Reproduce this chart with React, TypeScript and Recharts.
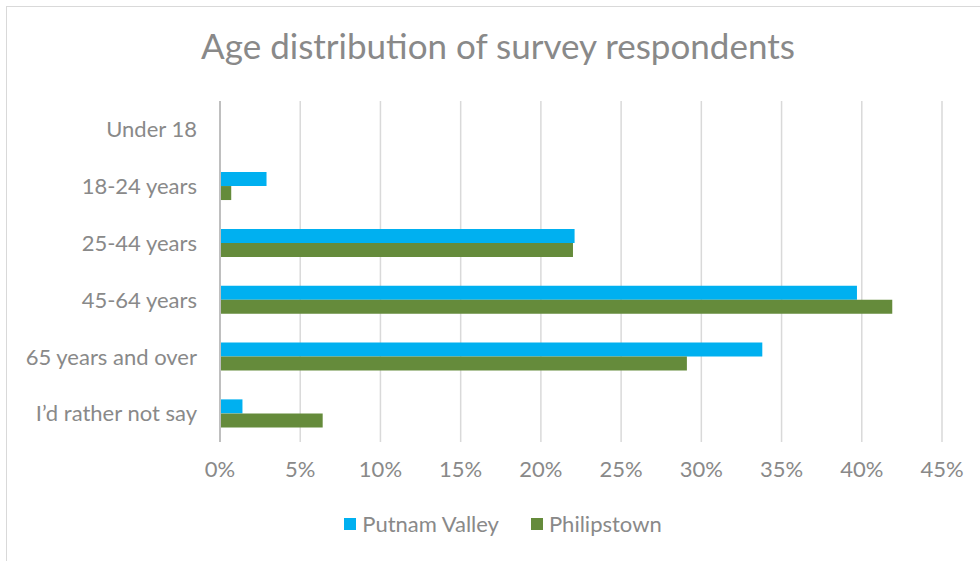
import { BarChart, Bar, XAxis, YAxis, CartesianGrid, Legend } from "recharts";

const categories = [
  "Under 18",
  "18-24 years",
  "25-44 years",
  "45-64 years",
  "65 years and over",
  "I’d rather not say",
];
const putnamValley = [0, 2.9, 22.1, 39.7, 33.8, 1.4];
const philipstown = [0, 0.7, 22.0, 41.9, 29.1, 6.4];
const xTicks = [0, 5, 10, 15, 20, 25, 30, 35, 40, 45];

const chartData = categories.map((c, i) => ({
  category: c,
  pv: putnamValley[i],
  ph: philipstown[i],
}));

const TEXT = "#898989";
const FONT = "Lato, 'Open Sans', sans-serif";

function LegendContent() {
  const items = [
    { name: "Putnam Valley", color: "#00B0F0" },
    { name: "Philipstown", color: "#658B3B" },
  ];
  return (
    <div style={{ display: "flex", justifyContent: "center", paddingLeft: 26, fontFamily: FONT, fontSize: 22, color: TEXT }}>
      {items.map((it) => (
        <div key={it.name} style={{ display: "flex", alignItems: "center", margin: "0 16px" }}>
          <span style={{ width: 12, height: 12, background: it.color, marginRight: 6, display: "inline-block" }} />
          <span>{it.name}</span>
        </div>
      ))}
    </div>
  );
}

export default function App() {
  return (
    <div style={{ position: "absolute", left: 0, top: 0, width: 980, height: 561, overflow: "hidden", background: "#fff" }}>
      <div style={{ position: "absolute", left: 6, top: 6, width: 1000, height: 600, border: "1px solid #d9d9d9" }} />
      <div
        style={{
          position: "absolute",
          top: 24,
          left: 8,
          width: 980,
          textAlign: "center",
          fontFamily: FONT,
          fontSize: 35,
          color: TEXT,
        }}
      >
        Age distribution of survey respondents
      </div>
      <div style={{ position: "absolute", left: 0, top: 0 }}>
        <BarChart
          width={980}
          height={561}
          data={chartData}
          layout="vertical"
          margin={{ top: 101, right: 38, left: 20, bottom: 20 }}
          barCategoryGap="25%"
          barGap={0}
        >
          <CartesianGrid horizontal={false} stroke="#d9d9d9" strokeWidth={1.5} />
          <XAxis
            type="number"
            domain={[0, 45]}
            ticks={xTicks}
            tickFormatter={(v) => `${v}%`}
            axisLine={false}
            tickLine={false}
            tickSize={0}
            tickMargin={19}
            height={72}
            interval={0}
            tick={{ fill: TEXT, fontSize: 22, fontFamily: FONT }}
          />
          <YAxis
            type="category"
            dataKey="category"
            width={200}
            axisLine={{ stroke: "#bfbfbf", strokeWidth: 2 }}
            tickLine={false}
            tickSize={0}
            tickMargin={23}
            interval={0}
            tick={{ fill: TEXT, fontSize: 22, fontFamily: FONT }}
          />
          <Legend
            verticalAlign="bottom"
            content={<LegendContent />}
            wrapperStyle={{ position: "absolute", top: 510, left: 0, width: 980 }}
          />
          <Bar dataKey="pv" name="Putnam Valley" fill="#00B0F0" isAnimationActive={false} />
          <Bar dataKey="ph" name="Philipstown" fill="#658B3B" isAnimationActive={false} />
        </BarChart>
      </div>
    </div>
  );
}
